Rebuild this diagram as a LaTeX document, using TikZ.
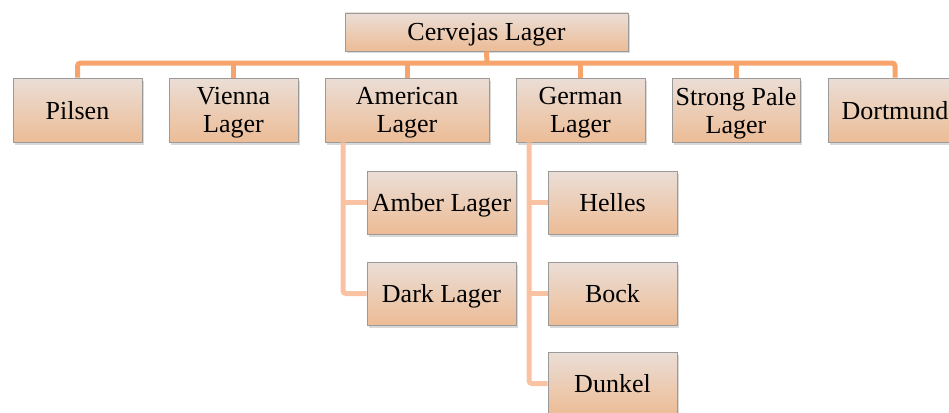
\documentclass[tikz,border=0pt]{standalone}
\usepackage{fontspec}
\setmainfont{Liberation Serif}
\usetikzlibrary{shadows}
\definecolor{topline}{HTML}{F6A46C}
\definecolor{subline}{HTML}{F9C2A2}
\definecolor{boxtop}{HTML}{EBDED6}
\definecolor{boxbot}{HTML}{ECBC96}
\definecolor{boxedge}{HTML}{9A9A9A}
\tikzset{
  box/.style={draw=boxedge, line width=0.9pt, top color=boxtop, bottom color=boxbot,
    align=center, inner sep=1pt, text depth=0pt, font=\fontsize{26}{28}\selectfont,
    drop shadow={shadow xshift=1.5pt, shadow yshift=-2.5pt, opacity=0.25, fill=black!60}},
  topconn/.style={draw=topline, line width=5pt, rounded corners=3pt},
  subconn/.style={draw=subline, line width=5pt, rounded corners=3pt},
}
\begin{document}
\begin{tikzpicture}[x=1pt,y=-1pt]
\useasboundingbox (0,0) rectangle (949,412);
\coordinate (bar) at (487,63);
% nodes
\node[box, minimum width=283pt, minimum height=38pt] (root) at (486.5,32) {Cervejas Lager};
\node[box, minimum width=129pt, minimum height=64pt] (pil) at (77.5,110) {Pilsen};
\node[box, minimum width=129pt, minimum height=64pt] (vie) at (233.5,110) {Vienna\\Lager};
\node[box, minimum width=164pt, minimum height=64pt] (ame) at (407,110) {American\\Lager};
\node[box, minimum width=129pt, minimum height=64pt] (ger) at (580.5,110) {German\\Lager};
\node[box, minimum width=128pt, minimum height=64pt] (str) at (736,110) {Strong Pale\\Lager};
\node[box, minimum width=134pt, minimum height=64pt] (dor) at (895,110) {Dortmund};
\node[box, minimum width=149pt, minimum height=63pt] (amb) at (441.5,202.5) {Amber Lager};
\node[box, minimum width=149pt, minimum height=63pt] (dar) at (441.5,293.5) {Dark Lager};
\node[box, minimum width=129pt, minimum height=63pt] (hel) at (612.5,202.5) {Helles};
\node[box, minimum width=129pt, minimum height=63pt] (boc) at (612.5,293.5) {Bock};
\node[box, minimum width=129pt, minimum height=63pt] (dun) at (612.5,383.5) {Dunkel};
% top-level connectors
\draw[topconn] (pil.north) |- (bar) -| (dor.north);
\draw[topconn] (root.south) -- (bar);
\draw[topconn] (vie.north) -- (vie.north |- bar);
\draw[topconn] (ame.north) -- (ame.north |- bar);
\draw[topconn] (ger.north) -- (ger.north |- bar);
\draw[topconn] (str.north) -- (str.north |- bar);
% sub connectors
\draw[subconn] (ame.south -| 343,0) |- (dar.west);
\draw[subconn] (343,202.5) -- (amb.west);
\draw[subconn] (ger.south -| 529,0) |- (dun.west);
\draw[subconn] (529,202.5) -- (hel.west);
\draw[subconn] (529,293.5) -- (boc.west);
\end{tikzpicture}
\end{document}
